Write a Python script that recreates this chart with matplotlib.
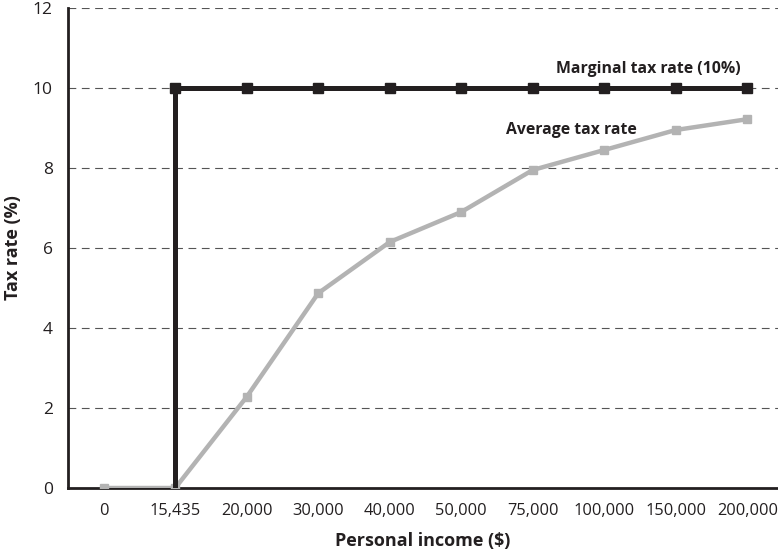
import matplotlib
matplotlib.use("Agg")
import matplotlib.pyplot as plt

# income brackets (categorical x axis)
incomes = ["0", "15,435", "20,000", "30,000", "40,000", "50,000",
           "75,000", "100,000", "150,000", "200,000"]
avg_rate = [0, 0, 2.28, 4.87, 6.15, 6.9, 7.95, 8.45, 8.95, 9.22]
# marginal rate: step up at 15,435 then flat at 10%
marg_x = [1, 1, 2, 3, 4, 5, 6, 7, 8, 9]
marg_rate = [0, 10, 10, 10, 10, 10, 10, 10, 10, 10]
y_ticks = [0, 2, 4, 6, 8, 10, 12]

plt.rcParams["font.family"] = ["Open Sans", "DejaVu Sans"]

fig = plt.figure(figsize=(7.78, 5.59), dpi=100)
ax = fig.add_axes([0.0874, 0.127, 0.9126, 0.8587])

xs = list(range(len(incomes)))
ax.plot(xs, avg_rate, color="#b3b3b3", linewidth=3.2, marker="s",
        markersize=6, zorder=3, solid_capstyle="butt")
ax.plot(marg_x, marg_rate, color="#231f20", linewidth=3.6, marker="s",
        markersize=6.5, markevery=list(range(1, len(marg_x))), zorder=4,
        solid_capstyle="butt")

ax.set_xlim(-0.5, 9.43)
ax.set_ylim(0, 12)
ax.set_xticks(xs)
ax.set_xticklabels(incomes)
ax.set_yticks(y_ticks)
ax.tick_params(axis="both", length=0, colors="#231f20")
ax.tick_params(axis="x", pad=11, labelsize=11.8)
ax.tick_params(axis="y", pad=11, labelsize=12.5)

for y in y_ticks[1:]:
    ax.axhline(y, color="#555555", linewidth=0.8, linestyle=(0, (7, 5)), zorder=1)

for s in ["top", "right"]:
    ax.spines[s].set_visible(False)
for s in ["left", "bottom"]:
    ax.spines[s].set_linewidth(2)
    ax.spines[s].set_color("#231f20")

ax.text(8.91, 10.27, "Marginal tax rate (10%)", fontsize=11.4, fontweight="bold",
        ha="right", va="bottom", color="#231f20")
ax.text(5.62, 8.75, "Average tax rate", fontsize=11.3, fontweight="bold",
        ha="left", va="bottom", color="#231f20")

ax.set_xlabel("Personal income ($)", fontsize=13, fontweight="bold",
              color="#231f20", labelpad=9)
ax.set_ylabel("Tax rate (%)", fontsize=13, fontweight="bold",
              color="#231f20", labelpad=8)

fig.savefig("out.png", dpi=100)
